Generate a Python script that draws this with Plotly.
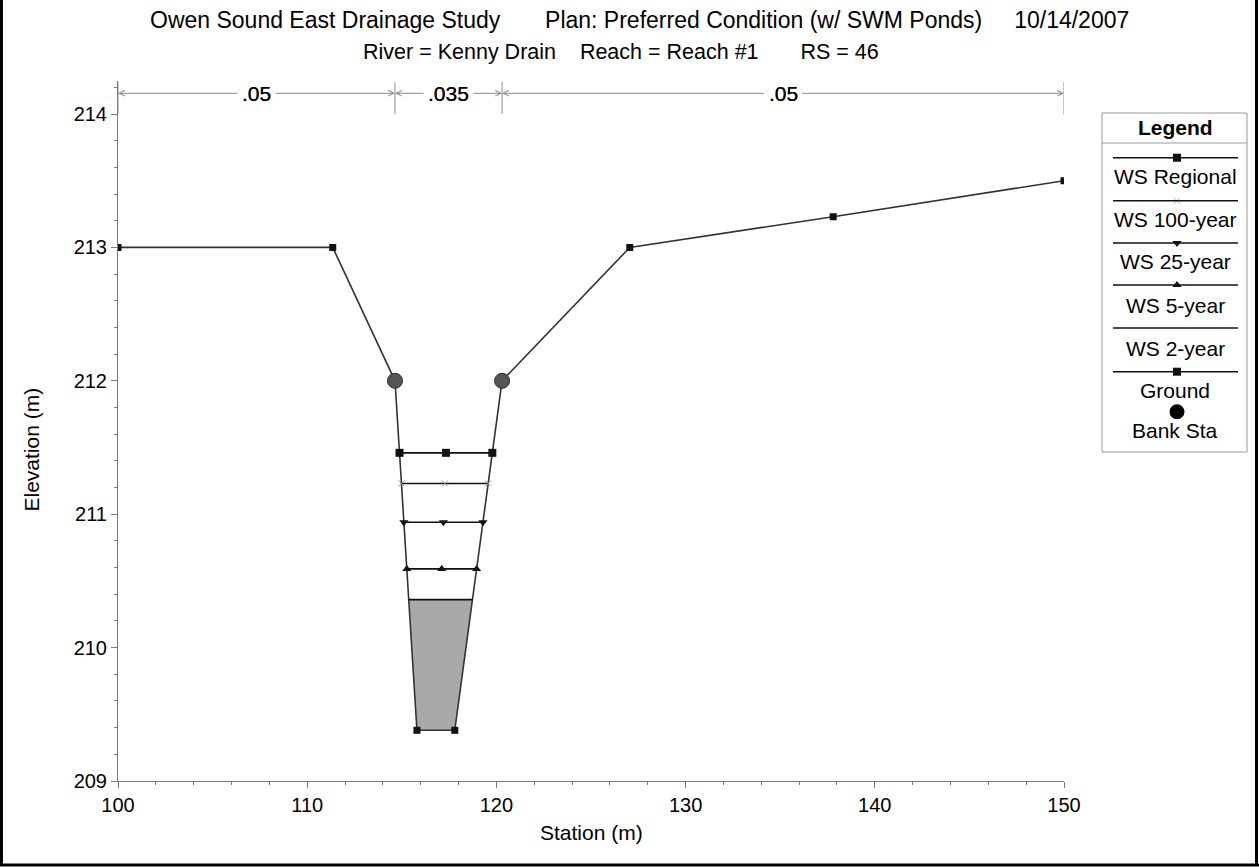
import numpy as np
import plotly.graph_objects as go

# ---------------- data ----------------
station = [100.0, 111.35, 114.64, 115.8, 117.8, 120.3, 127.05, 137.8, 150.0]
elevation = [213.0, 213.0, 212.0, 209.38, 209.38, 212.0, 213.0, 213.23, 213.5]
bank_sta = [114.64, 120.3]
bank_elev = [212.0, 212.0]
ws_names = ["WS Regional", "WS 100-year", "WS 25-year", "WS 5-year", "WS 2-year"]
ws_elev = [211.46, 211.23, 210.94, 210.59, 210.36]
ws_symbols = ["square", "x-thin", "triangle-down", "triangle-up", None]
n_labels = [".05", ".035", ".05"]
n_bounds = [100.0, 114.64, 120.3, 150.0]
x_ticks = [100, 110, 120, 130, 140, 150]
y_ticks = [209, 210, 211, 212, 213, 214]

W, H = 1259, 867
FONT = "Liberation Sans, Arial, sans-serif"
FS = 20
FL = 21
NB = "\u00a0"
st = np.array(station)
el = np.array(elevation)


def crossings(ws):
    i0 = int(np.argmin(el))
    i = i0
    while el[i] < ws:
        i -= 1
    xl = float(np.interp(ws, [el[i + 1], el[i]], [st[i + 1], st[i]]))
    j = i0
    while el[j] < ws:
        j += 1
    xr = float(np.interp(ws, [el[j - 1], el[j]], [st[j - 1], st[j]]))
    return xl, xr, i, j


def px(x):
    return x / W


def py(y):
    return 1 - y / H


fig = go.Figure()

# water fill for lowest profile
ws_low = ws_elev[-1]
xl, xr, i, j = crossings(ws_low)
fx = [xl] + list(st[i + 1:j]) + [xr, xl]
fy = [ws_low] + list(el[i + 1:j]) + [ws_low, ws_low]
fig.add_trace(go.Scatter(x=fx, y=fy, mode="lines", fill="toself",
                         fillcolor="#a9a9a9", line=dict(width=0),
                         hoverinfo="skip", showlegend=False))

# ground
fig.add_trace(go.Scatter(x=station, y=elevation, mode="lines+markers",
                         line=dict(color="#333333", width=1.6),
                         marker=dict(symbol="square", size=7, color="#111111"),
                         showlegend=False, name="Ground"))

# water surfaces
for name, ws, sym in zip(ws_names, ws_elev, ws_symbols):
    a, b, _, _ = crossings(ws)
    xs = [a, (a + b) / 2, b]
    ys = [ws] * 3
    if sym is None:
        fig.add_trace(go.Scatter(x=xs, y=ys, mode="lines",
                                 line=dict(color="#111111", width=1.6),
                                 showlegend=False, name=name))
    elif sym == "x-thin":
        fig.add_trace(go.Scatter(x=xs, y=ys, mode="lines+markers",
                                 line=dict(color="#111111", width=1.6),
                                 marker=dict(symbol=sym, size=6,
                                             line=dict(color="#999999", width=1)),
                                 showlegend=False, name=name))
    else:
        fig.add_trace(go.Scatter(x=xs, y=ys, mode="lines+markers",
                                 line=dict(color="#111111", width=1.6),
                                 marker=dict(symbol=sym, size=8, color="#111111"),
                                 showlegend=False, name=name))

# bank stations
fig.add_trace(go.Scatter(x=bank_sta, y=bank_elev, mode="markers",
                         marker=dict(symbol="circle", size=15, color="#555555",
                                     line=dict(color="#2a2a2a", width=1)),
                         showlegend=False, name="Bank Sta"))

# Manning's n bar
n_y = 214.155
for k in range(len(n_labels)):
    a, b = n_bounds[k], n_bounds[k + 1]
    m = (a + b) / 2
    for tip in (a, b):
        fig.add_annotation(x=tip, y=n_y, ax=m, ay=n_y, xref="x", yref="y",
                           axref="x", ayref="y", text=n_labels[k],
                           showarrow=True, arrowhead=5, arrowsize=1.1,
                           arrowwidth=1, arrowcolor="#8c8c8c",
                           font=dict(family=FONT, size=FL, color="#000"),
                           borderpad=4)
for bnd in n_bounds:
    fig.add_shape(type="line", xref="x", yref="y", x0=bnd, x1=bnd,
                  y0=214.0, y1=214.24, line=dict(color="#8c8c8c", width=1))

# ---------------- legend (drawn in its own axes) ----------------
leg_items = [
    ("WS Regional", "square", 44.7, 63.7),
    ("WS 100-year", "x-thin", 87.7, 107),
    ("WS 25-year", "triangle-down", 130, 148.7),
    ("WS 5-year", "triangle-up", 172, 192),
    ("WS 2-year", None, 215, 235),
    ("Ground", "square", 258.7, 277),
]
for name, sym, ly, ty in leg_items:
    fig.add_shape(type="line", xref="x2", yref="y2", x0=11, x1=136, y0=ly, y1=ly,
                  line=dict(color="#111111", width=1.6))
    if sym == "x-thin":
        fig.add_trace(go.Scatter(x=[75], y=[ly], xaxis="x2", yaxis="y2", mode="markers",
                                 marker=dict(symbol=sym, size=6,
                                             line=dict(color="#aaaaaa", width=1)),
                                 showlegend=False, hoverinfo="skip"))
    elif sym is not None:
        fig.add_trace(go.Scatter(x=[75], y=[ly], xaxis="x2", yaxis="y2", mode="markers",
                                 marker=dict(symbol=sym, size=8, color="#111111"),
                                 showlegend=False, hoverinfo="skip"))
    fig.add_annotation(x=73, y=ty, xref="x2", yref="y2", text=name, showarrow=False,
                       font=dict(family=FONT, size=FL, color="#000"))
fig.add_trace(go.Scatter(x=[75], y=[298.7], xaxis="x2", yaxis="y2", mode="markers",
                         marker=dict(symbol="circle", size=15, color="#000000"),
                         showlegend=False, hoverinfo="skip"))
fig.add_annotation(x=73, y=317, xref="x2", yref="y2", text="Bank Sta", showarrow=False,
                   font=dict(family=FONT, size=FL, color="#000"))
fig.add_annotation(x=73, y=15, xref="x2", yref="y2", text="<b>Legend</b>", showarrow=False,
                   font=dict(family=FONT, size=FL, color="#000"))
fig.add_shape(type="rect", xref="x2 domain", yref="y2 domain", x0=0, x1=1, y0=0, y1=1,
              line=dict(color="#9a9a9a", width=1))
fig.add_shape(type="line", xref="x2 domain", yref="y2", x0=0, x1=1, y0=30, y1=30,
              line=dict(color="#9a9a9a", width=1))

# ---------------- titles ----------------
title1 = ("Owen Sound East Drainage Study" + NB * 7 +
          "Plan: Preferred Condition (w/ SWM Ponds)" + NB * 5 + "10/14/2007")
title2 = "River = Kenny Drain" + NB * 4 + "Reach = Reach #1" + NB * 7 + "RS = 46"
fig.add_annotation(x=px(639), y=py(20), xref="paper", yref="paper", text=title1,
                   showarrow=False, xanchor="center", yanchor="middle",
                   font=dict(family=FONT, size=23, color="#000"))
fig.add_annotation(x=px(621), y=py(52), xref="paper", yref="paper", text=title2,
                   showarrow=False, xanchor="center", yanchor="middle",
                   font=dict(family=FONT, size=21.5, color="#000"))

fig.add_annotation(x=px(591), y=py(846), xref="paper", yref="paper", text="Station (m)",
                   showarrow=False, font=dict(family=FONT, size=FL, color="#000"))
fig.add_annotation(x=px(18), y=py(450), xref="paper", yref="paper", text="Elevation (m)",
                   showarrow=False, textangle=-90,
                   font=dict(family=FONT, size=FL, color="#000"))

# outer border
for x0, y0, x1, y1 in [(1.5, 0, 1.5, 865), (1256.5, 0, 1256.5, 865), (0, 865, 1259, 865)]:
    fig.add_shape(type="line", xref="paper", yref="paper",
                  x0=px(x0), y0=py(y0), x1=px(x1), y1=py(y1),
                  line=dict(color="#000", width=3))

axis_common = dict(showgrid=False, zeroline=False, showline=True, linecolor="#7a7a7a",
                   linewidth=1, ticks="outside", ticklen=6, tickcolor="#7a7a7a",
                   automargin=False,
                   tickfont=dict(family=FONT, size=FS, color="#000"))

fig.update_layout(
    template="none",
    font=dict(family=FONT, size=FS, color="#000"),
    width=W, height=H, autosize=False,
    margin=dict(l=0, r=0, t=0, b=0, pad=0),
    paper_bgcolor="white", plot_bgcolor="white",
    showlegend=False,
    xaxis=dict(range=[100, 150], domain=[px(118), px(1064)], tickvals=x_ticks,
               anchor="y",
               minor=dict(dtick=2, ticks="outside", ticklen=3, tickcolor="#7a7a7a"),
               **axis_common),
    yaxis=dict(range=[209, 214.25], domain=[py(781), py(80.65)], tickvals=y_ticks,
               anchor="x",
               minor=dict(dtick=0.2, ticks="outside", ticklen=3, tickcolor="#7a7a7a"),
               **axis_common),
    xaxis2=dict(range=[0, 145], domain=[px(1102), px(1247)], visible=False,
                anchor="y2", fixedrange=True, automargin=False),
    yaxis2=dict(range=[339, 0], domain=[py(452), py(113)], visible=False,
                anchor="x2", fixedrange=True, automargin=False),
)

fig.write_html("out.html", config={"displayModeBar": False},
               post_script="document.body.style.margin='0';"
                           "document.body.style.overflow='hidden';")
